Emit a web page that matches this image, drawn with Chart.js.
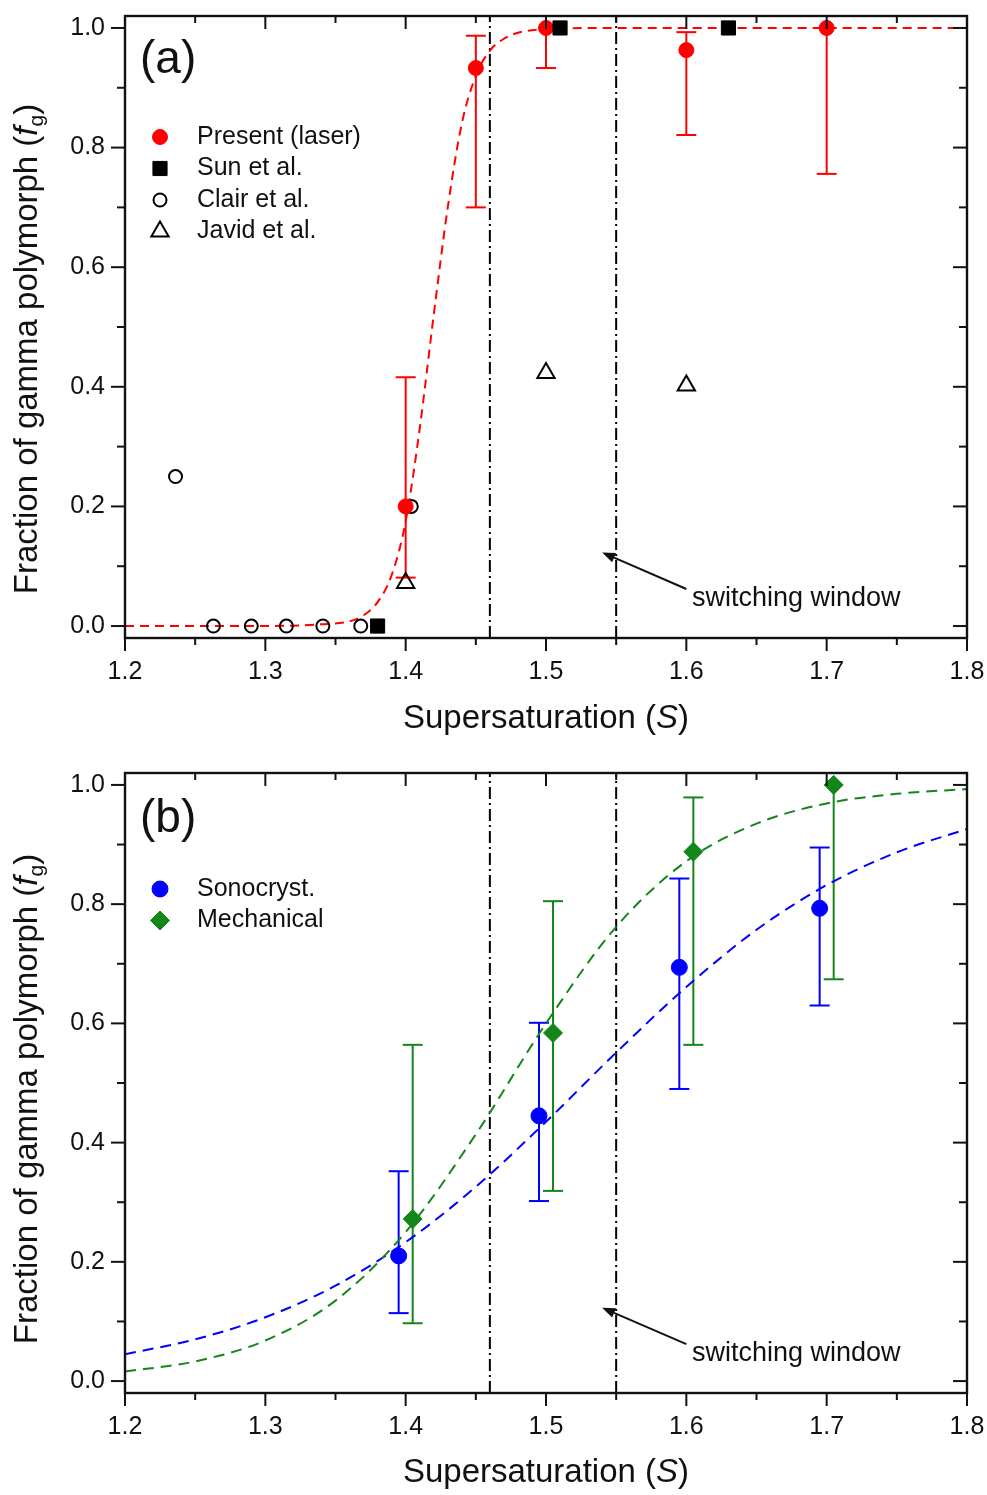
<!DOCTYPE html>
<html><head><meta charset="utf-8">
<script src="https://cdn.jsdelivr.net/npm/chart.js@4.4.1/dist/chart.umd.min.js"></script>
<style>
html,body{margin:0;padding:0;background:#fff;}
#wrap{position:relative;width:987px;height:1495px;overflow:hidden;background:#fff;}
canvas{display:block;position:absolute;left:0;}
</style></head><body>
<div id="wrap">
<canvas id="ca" width="987" height="748" style="top:0px"></canvas>
<canvas id="cb" width="987" height="747" style="top:748px"></canvas>
</div>
<script>
// ---------- tick labels ----------
const xTickLabels = ['1.2','1.3','1.4','1.5','1.6','1.7','1.8'];
const yTickLabels = ['0.0','0.2','0.4','0.6','0.8','1.0'];

// ---------- panel (a) ----------
const laserS  = [1.40, 1.45, 1.50, 1.60, 1.70];
const laserF  = [0.200, 0.933, 1.000, 0.963, 1.000];
const laserLo = [0.081, 0.700, 0.933, 0.821, 0.756];
const laserHi = [0.416, 0.987, 1.000, 0.993, 1.000];
const sunS    = [1.38, 1.51, 1.63];
const sunF    = [0.0, 1.0, 1.0];
const clairS  = [1.236, 1.263, 1.290, 1.315, 1.341, 1.368, 1.404];
const clairF  = [0.25, 0.0, 0.0, 0.0, 0.0, 0.0, 0.20];
const javidS  = [1.40, 1.50, 1.60];
const javidF  = [0.072, 0.423, 0.402];
const fitAS   = [1.20, 1.30, 1.34, 1.36, 1.37, 1.38, 1.39, 1.40, 1.41, 1.42, 1.43, 1.44, 1.45, 1.46, 1.47, 1.48, 1.50, 1.55, 1.80];
const fitAF   = [0.000, 0.000, 0.003, 0.008, 0.018, 0.040, 0.085, 0.175, 0.330, 0.520, 0.700, 0.840, 0.920, 0.962, 0.982, 0.992, 0.998, 1.000, 1.000];

// ---------- panel (b) ----------
const sonoS   = [1.395, 1.495, 1.595, 1.695];
const sonoF   = [0.210, 0.445, 0.694, 0.793];
const sonoLo  = [0.114, 0.302, 0.490, 0.630];
const sonoHi  = [0.352, 0.601, 0.843, 0.895];
const mechS   = [1.405, 1.505, 1.605, 1.705];
const mechF   = [0.272, 0.584, 0.888, 1.000];
const mechLo  = [0.097, 0.319, 0.564, 0.674];
const mechHi  = [0.564, 0.805, 0.979, 1.000];
const fitBS   = [1.20, 1.25, 1.30, 1.35, 1.40, 1.45, 1.50, 1.55, 1.60, 1.65, 1.70, 1.75, 1.80];
const fitSonoF= [0.045, 0.070, 0.107, 0.160, 0.233, 0.326, 0.435, 0.551, 0.661, 0.757, 0.832, 0.887, 0.926];
const fitMechF= [0.016, 0.033, 0.068, 0.135, 0.250, 0.414, 0.600, 0.762, 0.872, 0.935, 0.969, 0.985, 0.993];

// switching window boundaries
const windowS = [1.46, 1.55];

const FONT = "'Liberation Sans', Arial, Helvetica, sans-serif";
const RED = '#ff0000', BLUE = '#0000ff', GREEN = '#13861a', INK = '#111111';

const pts = (xs, ys) => xs.map((x, i) => ({x: x, y: ys[i]}));
const vline = (s) => ({
  data: [{x: s, y: -0.02}, {x: s, y: 1.02}], showLine: true, pointRadius: 0,
  borderColor: '#000', borderWidth: 2, borderDash: [12, 4, 2, 4], order: 8
});

function xLabel(v) {
  const t = v * 10;
  if (Math.abs(t - Math.round(t)) > 1e-6) return '';
  const s = v.toFixed(1);
  return xTickLabels.includes(s) ? s : '';
}
function yLabel(v) {
  const r = Math.round(v * 10);
  if (Math.abs(v * 10 - r) > 1e-6 || r % 2 !== 0) return '';
  const s = (Math.abs(v) < 1e-9 ? 0 : v).toFixed(1);
  return yTickLabels.includes(s) ? s : '';
}

function scales(xAxisH) {
  return {
    x: {
      type: 'linear', min: 1.2, max: 1.8,
      ticks: {stepSize: 0.05, includeBounds: false, autoSkip: false, maxRotation: 0, minRotation: 0,
              padding: 0, color: INK, font: {family: FONT, size: 25}, callback: (v) => xLabel(v)},
      grid: {display: true, drawOnChartArea: false, drawTicks: true, tickLength: 19, tickColor: 'rgba(0,0,0,0)', color: 'rgba(0,0,0,0)'},
      border: {display: false},
      afterFit: (s) => { s.height = xAxisH; }
    },
    y: {
      type: 'linear', min: -0.02, max: 1.02,
      ticks: {stepSize: 0.1, includeBounds: false, autoSkip: false, padding: 0,
              color: INK, font: {family: FONT, size: 25}, callback: (v) => yLabel(v)},
      grid: {display: true, drawOnChartArea: false, drawTicks: true, tickLength: 20, tickColor: 'rgba(0,0,0,0)', color: 'rgba(0,0,0,0)'},
      border: {display: false},
      afterFit: (s) => { s.width = 125; }
    }
  };
}

function drawMarker(ctx, ds, x, y) {
  ctx.save();
  ctx.fillStyle = ds.backgroundColor;
  ctx.strokeStyle = ds.borderColor;
  ctx.lineWidth = ds.borderWidth;
  Chart.helpers.drawPoint(ctx, {pointStyle: ds.pointStyle, radius: ds.pointRadius, rotation: 0, borderWidth: ds.borderWidth}, x, y);
  ctx.restore();
}

function drawParts(ctx, parts, cx, baseY) {
  let total = 0;
  parts.forEach(p => { ctx.font = p.font; p.w = ctx.measureText(p.t).width; total += p.w; });
  let x = cx - total / 2;
  parts.forEach(p => { ctx.font = p.font; ctx.fillText(p.t, x, baseY + (p.dy || 0)); x += p.w; });
}

const decor = {
  id: 'decor',
  beforeDatasetsDraw(chart, args, o) {
    const ctx = chart.ctx, xs = chart.scales.x, ys = chart.scales.y;
    (o.errorBars || []).forEach(eb => {
      ctx.save();
      ctx.strokeStyle = eb.color; ctx.lineWidth = 2;
      eb.s.forEach((s, i) => {
        const px = xs.getPixelForValue(s);
        const pLo = ys.getPixelForValue(eb.lo[i]), pHi = ys.getPixelForValue(eb.hi[i]);
        ctx.beginPath(); ctx.moveTo(px, pLo); ctx.lineTo(px, pHi); ctx.stroke();
        [[eb.lo[i], pLo], [eb.hi[i], pHi]].forEach(([v, p]) => {
          if (Math.abs(v - eb.f[i]) > 0.005) {
            ctx.beginPath(); ctx.moveTo(px - 10, p); ctx.lineTo(px + 10, p); ctx.stroke();
          }
        });
      });
      ctx.restore();
    });
  },
  afterDraw(chart, args, o) {
    const ctx = chart.ctx, xs = chart.scales.x, ys = chart.scales.y, ca = chart.chartArea;
    ctx.save();
    // frame
    ctx.strokeStyle = INK; ctx.lineWidth = 2.4;
    ctx.strokeRect(ca.left, ca.top, ca.right - ca.left, ca.bottom - ca.top);
    // ticks
    ctx.lineWidth = 2;
    const seg = (a, b, c, d) => { ctx.beginPath(); ctx.moveTo(a, b); ctx.lineTo(c, d); ctx.stroke(); };
    xs.ticks.forEach(t => {
      const p = xs.getPixelForValue(t.value), L = t.label !== '' ? 13 : 7;
      seg(p, ca.bottom, p, ca.bottom + L);
      seg(p, ca.top, p, ca.top + L);
    });
    ys.ticks.forEach(t => {
      const p = ys.getPixelForValue(t.value), L = t.label !== '' ? 14 : 8;
      seg(ca.left - L, p, ca.left, p);
      seg(ca.right - L, p, ca.right, p);
    });
    // panel label
    ctx.fillStyle = INK; ctx.textBaseline = 'alphabetic'; ctx.textAlign = 'left';
    ctx.font = `46px ${FONT}`;
    ctx.fillText(o.label, ca.left + 15, ca.top + o.labelY);
    // legend
    ctx.textBaseline = 'middle';
    o.legend.forEach((e, i) => {
      const y = ca.top + o.legendTop + i * 31.5;
      drawMarker(ctx, chart.data.datasets[e.ds], ca.left + 35, y);
      ctx.fillStyle = INK;
      ctx.font = `25px ${FONT}`;
      ctx.fillText(e.text, ca.left + 72, y);
    });
    // annotation arrow + text
    const a = o.annot;
    const x0 = xs.getPixelForValue(a.x0), y0 = ys.getPixelForValue(a.y0);
    const x1 = xs.getPixelForValue(a.x1), y1 = ys.getPixelForValue(a.y1);
    const ang = Math.atan2(y1 - y0, x1 - x0);
    ctx.strokeStyle = INK; ctx.fillStyle = INK; ctx.lineWidth = 2;
    const hx = x1 - 13 * Math.cos(ang), hy = y1 - 13 * Math.sin(ang);
    seg(x0, y0, hx, hy);
    ctx.beginPath();
    ctx.moveTo(x1, y1);
    ctx.lineTo(hx + 5 * Math.sin(ang), hy - 5 * Math.cos(ang));
    ctx.lineTo(hx - 5 * Math.sin(ang), hy + 5 * Math.cos(ang));
    ctx.closePath(); ctx.fill();
    ctx.font = `27px ${FONT}`; ctx.textBaseline = 'alphabetic';
    ctx.fillText(a.text, xs.getPixelForValue(a.tx), ys.getPixelForValue(a.ty));
    // axis titles
    const N = `33px ${FONT}`, I = `italic 33px ${FONT}`, SMALL = `21px ${FONT}`;
    drawParts(ctx, [{t: 'Supersaturation (', font: N}, {t: 'S', font: I}, {t: ')', font: N}],
              (ca.left + ca.right) / 2, ca.bottom + o.xTitleY);
    ctx.save();
    ctx.translate(37, (ca.top + ca.bottom) / 2 + o.yTitleShift);
    ctx.rotate(-Math.PI / 2);
    drawParts(ctx, [{t: 'Fraction of gamma polymorph (', font: N}, {t: 'f', font: I},
                    {t: 'g', font: SMALL, dy: 6}, {t: ')', font: N}], 0, 0);
    ctx.restore();
    ctx.restore();
  }
};

const annot = {text: 'switching window', tx: 1.604, ty: 0.034, x0: 1.600, y0: 0.062, x1: 1.540, y1: 0.123};

// ---------- chart (a) ----------
new Chart(document.getElementById('ca'), {
  type: 'scatter',
  data: {datasets: [
    {label: 'fit', data: pts(fitAS, fitAF), showLine: true, pointRadius: 0, borderColor: RED, borderWidth: 2,
     borderDash: [9, 6], cubicInterpolationMode: 'monotone', order: 7},
    vline(windowS[0]), vline(windowS[1]),
    {label: 'Clair et al.', data: pts(clairS, clairF), pointStyle: 'circle', pointRadius: 6.5, borderWidth: 2,
     borderColor: '#000', backgroundColor: 'rgba(0,0,0,0)', order: 4},
    {label: 'Javid et al.', data: pts(javidS, javidF), pointStyle: 'triangle', pointRadius: 10, borderWidth: 2,
     borderColor: '#000', backgroundColor: 'rgba(0,0,0,0)', order: 3},
    {label: 'Present (laser)', data: pts(laserS, laserF), pointStyle: 'circle', pointRadius: 7.5, borderWidth: 1,
     borderColor: RED, backgroundColor: RED, order: 2},
    {label: 'Sun et al.', data: pts(sunS, sunF), pointStyle: 'rect', pointRadius: 10, borderWidth: 1,
     borderColor: '#000', backgroundColor: '#000', order: 1}
  ]},
  options: {
    responsive: false, animation: false, devicePixelRatio: 1, events: [],
    layout: {padding: {left: 0, top: 16, right: 20, bottom: 0}},
    scales: scales(110),
    plugins: {
      legend: {display: false}, tooltip: {enabled: false},
      decor: {
        label: '(a)', labelY: 57, legendTop: 121, xTitleY: 90, yTitleShift: 22,
        legend: [{ds: 5, text: 'Present (laser)'}, {ds: 6, text: 'Sun et al.'},
                 {ds: 3, text: 'Clair et al.'}, {ds: 4, text: 'Javid et al.'}],
        errorBars: [{s: laserS, f: laserF, lo: laserLo, hi: laserHi, color: RED}],
        annot: annot
      }
    }
  },
  plugins: [decor]
});

// ---------- chart (b) ----------
new Chart(document.getElementById('cb'), {
  type: 'scatter',
  data: {datasets: [
    {label: 'fit sono', data: pts(fitBS, fitSonoF), showLine: true, pointRadius: 0, borderColor: BLUE, borderWidth: 2,
     borderDash: [11, 7], cubicInterpolationMode: 'monotone', order: 7},
    {label: 'fit mech', data: pts(fitBS, fitMechF), showLine: true, pointRadius: 0, borderColor: GREEN, borderWidth: 2,
     borderDash: [11, 7], cubicInterpolationMode: 'monotone', order: 6},
    vline(windowS[0]), vline(windowS[1]),
    {label: 'Sonocryst.', data: pts(sonoS, sonoF), pointStyle: 'circle', pointRadius: 8, borderWidth: 1,
     borderColor: BLUE, backgroundColor: BLUE, order: 2},
    {label: 'Mechanical', data: pts(mechS, mechF), pointStyle: 'rectRot', pointRadius: 9.5, borderWidth: 1,
     borderColor: GREEN, backgroundColor: GREEN, order: 1}
  ]},
  options: {
    responsive: false, animation: false, devicePixelRatio: 1, events: [],
    layout: {padding: {left: 0, top: 25, right: 20, bottom: 0}},
    scales: scales(102),
    plugins: {
      legend: {display: false}, tooltip: {enabled: false},
      decor: {
        label: '(b)', labelY: 59, legendTop: 116, xTitleY: 89, yTitleShift: 16,
        legend: [{ds: 4, text: 'Sonocryst.'}, {ds: 5, text: 'Mechanical'}],
        errorBars: [{s: sonoS, f: sonoF, lo: sonoLo, hi: sonoHi, color: BLUE},
                    {s: mechS, f: mechF, lo: mechLo, hi: mechHi, color: GREEN}],
        annot: annot
      }
    }
  },
  plugins: [decor]
});
</script>
</body></html>
